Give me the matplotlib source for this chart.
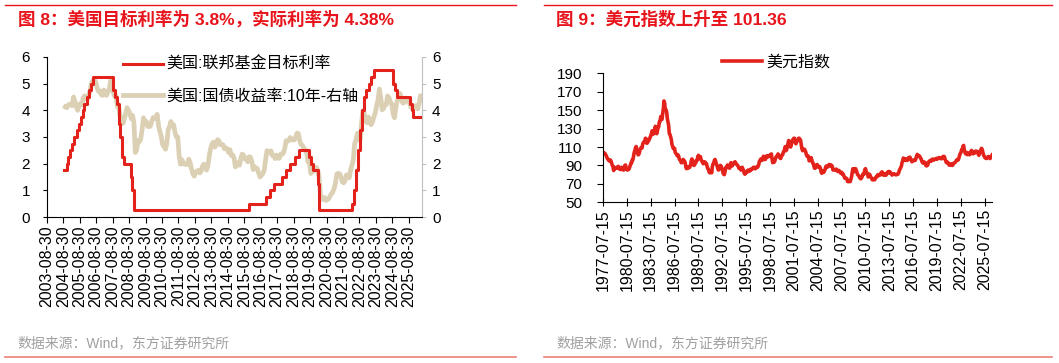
import matplotlib
matplotlib.use('Agg')
import matplotlib.pyplot as plt
import matplotlib.dates as mdates
from matplotlib.lines import Line2D
import numpy as np
import pandas as pd

plt.rcParams['font.family'] = ['Liberation Sans', 'Noto Sans CJK SC', 'DejaVu Sans']
plt.rcParams['axes.unicode_minus'] = False

RED = '#E3231B'
BEIGE = '#DCD0B4'
TITLE_RED = '#E8141B'

# ---- chart 8: fed funds target (upper bound) and 10y treasury ----
fed_dates = ['2004-09-21', '2004-11-10', '2004-12-14', '2005-02-02', '2005-03-22', '2005-05-03',
             '2005-06-30', '2005-08-09', '2005-09-20', '2005-11-01', '2005-12-13', '2006-01-31',
             '2006-03-28', '2006-05-10', '2006-06-29', '2007-09-18', '2007-10-31', '2007-12-11',
             '2008-01-22', '2008-01-30', '2008-03-18', '2008-04-30', '2008-10-08', '2008-10-29',
             '2008-12-16', '2015-12-16', '2016-12-14', '2017-03-15', '2017-06-14', '2017-12-13',
             '2018-03-21', '2018-06-13', '2018-09-26', '2018-12-19', '2019-07-31', '2019-09-18',
             '2019-10-30', '2020-03-03', '2020-03-15', '2022-03-16', '2022-05-04', '2022-06-15',
             '2022-07-27', '2022-09-21', '2022-11-02', '2022-12-14', '2023-02-01', '2023-03-22',
             '2023-05-03', '2023-07-26', '2024-09-18', '2024-11-07', '2024-12-18', '2025-09-17',
             '2025-10-29', '2025-12-10', '2026-05-29']
fed_rate = [1.75, 2.0, 2.25, 2.5, 2.75, 3.0,
            3.25, 3.5, 3.75, 4.0, 4.25, 4.5,
            4.75, 5.0, 5.25, 4.75, 4.5, 4.25,
            3.5, 3.0, 2.25, 2.0, 1.5, 1.0,
            0.25, 0.5, 0.75, 1.0, 1.25, 1.5,
            1.75, 2.0, 2.25, 2.5, 2.25, 2.0,
            1.75, 1.25, 0.25, 0.5, 1.0, 1.75,
            2.5, 3.25, 4.0, 4.5, 4.75, 5.0,
            5.25, 5.5, 5.0, 4.75, 4.5, 4.25,
            4.0, 3.75, 3.75]

ust10y_start = '2004-09-15'
ust10y = [
    4.13, 4.10, 4.19, 4.23,
    4.22, 4.17, 4.50, 4.34, 4.14, 4.00, 4.18, 4.26, 4.20, 4.46, 4.54, 4.47,
    4.42, 4.57, 4.72, 4.99, 5.11, 5.11, 5.09, 4.88, 4.72, 4.73, 4.60, 4.56,
    4.76, 4.72, 4.56, 4.69, 4.75, 5.10, 5.00, 4.67, 4.52, 4.53, 4.15, 4.10,
    3.74, 3.74, 3.51, 3.68, 3.88, 4.10, 4.01, 3.89, 3.69, 3.81, 3.53, 2.42,
    2.52, 2.87, 2.82, 2.93, 3.29, 3.72, 3.56, 3.59, 3.40, 3.39, 3.40, 3.59,
    3.73, 3.69, 3.73, 3.85, 3.42, 3.20, 3.01, 2.70, 2.65, 2.54, 2.76, 3.29,
    3.39, 3.58, 3.41, 3.46, 3.17, 3.00, 3.00, 2.30, 1.98, 2.15, 2.01, 1.98,
    1.97, 1.97, 2.17, 2.05, 1.80, 1.62, 1.53, 1.68, 1.72, 1.75, 1.65, 1.72,
    1.91, 1.98, 1.96, 1.76, 1.93, 2.30, 2.58, 2.74, 2.81, 2.62, 2.72, 2.90,
    2.86, 2.71, 2.72, 2.71, 2.56, 2.60, 2.54, 2.42, 2.53, 2.30, 2.33, 2.21,
    1.88, 1.98, 2.04, 1.94, 2.20, 2.36, 2.32, 2.17, 2.17, 2.07, 2.26, 2.24,
    2.09, 1.78, 1.89, 1.81, 1.81, 1.64, 1.50, 1.56, 1.63, 1.76, 2.14, 2.49,
    2.43, 2.42, 2.48, 2.30, 2.30, 2.19, 2.32, 2.21, 2.20, 2.36, 2.35, 2.40,
    2.58, 2.86, 2.84, 2.87, 2.98, 2.91, 2.89, 2.89, 3.00, 3.15, 3.12, 2.83,
    2.71, 2.68, 2.57, 2.53, 2.40, 2.07, 2.06, 1.63, 1.70, 1.71, 1.81, 1.86,
    1.76, 1.50, 0.87, 0.66, 0.67, 0.73, 0.62, 0.65, 0.68, 0.79, 0.87, 0.93,
    1.08, 1.26, 1.61, 1.64, 1.62, 1.52, 1.32, 1.28, 1.37, 1.58, 1.56, 1.47,
    1.76, 1.93, 2.13, 2.75, 2.90, 3.14, 2.90, 2.90, 3.52, 3.98, 3.89, 3.62,
    3.53, 3.75, 3.66, 3.46, 3.57, 3.75, 3.90, 4.17, 4.38, 4.80, 4.50, 4.02,
    4.06, 4.21, 4.21, 4.54, 4.48, 4.31, 4.25, 3.87, 3.72, 4.10, 4.36, 4.39,
    4.63, 4.45, 4.28, 4.28, 4.42, 4.38, 4.39, 4.26, 4.12, 4.06, 4.09, 4.15,
    4.18, 4.05, 4.25, 4.55, 4.38,
]
left_ticks = ['%d-08-30' % y for y in range(2003, 2026)]

# ---- chart 9: dollar index, monthly ----
dxy_start = '1977-07-15'
dxy = [
    104.0, 103.5, 103.0, 101.5, 100.5, 98.5,
    97.0, 96.5, 95.0, 95.5, 96.0, 95.0, 92.5, 90.0, 89.0, 84.5, 88.0, 86.5,
    87.0, 87.5, 87.0, 88.5, 89.0, 87.5, 86.0, 86.0, 85.5, 88.0, 87.0, 85.5,
    85.0, 85.5, 90.0, 90.5, 87.0, 85.5, 85.0, 86.5, 86.0, 87.5, 90.0, 92.5,
    92.5, 96.0, 96.0, 99.5, 104.0, 106.0, 109.0, 110.5, 106.5, 104.0, 101.5, 102.0,
    104.5, 107.5, 109.0, 109.5, 109.0, 113.5, 115.0, 115.5, 117.0, 119.5, 119.0, 114.0,
    114.5, 116.5, 117.0, 118.5, 120.5, 122.0, 124.5, 127.5, 126.0, 124.0, 127.0, 129.5,
    132.5, 129.0, 124.5, 127.0, 131.5, 132.0, 137.5, 137.5, 143.0, 143.0, 140.0, 146.5,
    151.5, 160.0, 157.5, 150.0, 150.5, 148.0, 141.0, 137.0, 133.5, 124.5, 123.5, 121.0,
    118.0, 113.0, 110.5, 108.5, 108.0, 108.5, 104.0, 103.0, 102.0, 100.5, 101.5, 100.5,
    97.0, 96.0, 95.5, 93.0, 93.0, 94.5, 96.5, 95.5, 94.5, 93.0, 88.0, 86.5,
    87.0, 88.5, 87.5, 87.5, 88.5, 90.5, 94.5, 97.0, 96.0, 93.0, 90.0, 90.5,
    93.0, 93.0, 95.5, 95.5, 99.5, 101.0, 97.5, 99.0, 99.5, 96.0, 95.0, 93.5,
    92.0, 92.0, 94.0, 93.5, 92.0, 92.0, 89.0, 86.5, 86.0, 83.0, 82.0, 83.0,
    83.5, 82.0, 89.0, 91.5, 92.5, 95.5, 96.5, 94.5, 91.5, 90.0, 87.0, 85.0,
    85.5, 88.0, 90.0, 89.5, 87.5, 86.0, 82.0, 80.5, 80.0, 83.0, 87.5, 87.5,
    89.5, 90.5, 90.0, 87.5, 87.0, 89.5, 93.0, 92.0, 89.5, 91.0, 92.5, 93.0,
    94.0, 93.0, 91.5, 91.0, 90.0, 89.0, 87.0, 87.5, 86.5, 85.0, 86.0, 88.0,
    86.0, 85.0, 81.5, 80.5, 82.0, 82.0, 82.5, 84.5, 85.0, 83.5, 84.0, 84.5,
    86.0, 85.5, 86.0, 87.0, 88.0, 88.0, 86.5, 86.5, 87.5, 88.5, 88.0, 89.0,
    91.5, 94.5, 95.0, 97.0, 95.5, 95.5, 97.5, 100.0, 97.5, 96.5, 96.5, 99.0,
    100.5, 99.5, 100.0, 99.5, 100.0, 101.5, 101.5, 102.5, 97.0, 93.0, 94.5, 93.5,
    94.5, 97.0, 99.0, 100.0, 100.5, 102.5, 101.5, 99.5, 98.0, 97.5, 100.0, 101.0,
    101.5, 104.5, 105.5, 107.5, 110.5, 106.0, 107.0, 110.5, 114.0, 117.0, 116.5, 112.0,
    110.0, 112.5, 115.5, 117.5, 118.5, 119.5, 119.5, 115.0, 113.5, 115.5, 116.5, 117.0,
    119.5, 119.5, 118.5, 117.5, 113.0, 108.5, 106.0, 107.5, 107.0, 107.5, 106.0, 104.0,
    101.0, 100.0, 100.5, 99.5, 95.0, 95.5, 97.0, 98.5, 96.0, 93.0, 92.5, 89.5,
    87.0, 87.0, 89.0, 90.5, 91.0, 89.0, 88.0, 89.0, 88.5, 86.5, 83.0, 81.5,
    83.0, 84.0, 82.5, 84.0, 85.5, 88.5, 89.5, 88.0, 88.5, 89.5, 91.0, 90.5,
    89.5, 90.5, 90.0, 88.5, 85.0, 85.5, 85.5, 85.0, 85.5, 86.0, 84.5, 83.5,
    84.5, 84.5, 83.5, 82.0, 82.0, 82.5, 80.5, 81.0, 79.5, 77.5, 76.0, 76.5,
    76.0, 75.5, 72.5, 72.5, 72.5, 73.0, 72.5, 75.5, 78.0, 83.0, 86.5, 83.0,
    83.5, 86.5, 86.5, 85.0, 82.5, 80.0, 79.5, 78.5, 77.0, 76.0, 75.5, 76.5,
    78.0, 80.5, 80.5, 81.0, 85.5, 86.5, 83.5, 82.0, 81.0, 77.5, 78.5, 80.5,
    79.0, 77.5, 76.5, 74.5, 75.0, 74.5, 74.5, 74.5, 76.5, 77.5, 77.5, 79.5,
    80.0, 79.0, 79.5, 79.5, 81.5, 82.5, 83.0, 82.0, 79.5, 79.5, 80.5, 80.0,
    79.5, 80.5, 82.5, 82.5, 83.5, 82.0, 83.0, 81.5, 81.0, 79.5, 80.5, 80.5,
    81.0, 80.5, 80.0, 79.8, 80.0, 80.5, 80.5, 82.0, 84.5, 86.0, 87.5, 89.0,
    93.0, 94.5, 98.0, 97.5, 95.5, 95.5, 97.0, 95.5, 95.5, 96.0, 98.5, 98.5,
    99.0, 97.0, 96.0, 94.0, 94.5, 95.0, 96.0, 95.5, 95.5, 97.5, 100.0, 102.0,
    101.0, 100.5, 100.5, 99.5, 98.0, 97.0, 94.5, 93.0, 92.5, 94.0, 93.5, 93.0,
    90.0, 89.5, 89.9, 90.5, 93.5, 94.5, 94.5, 95.5, 94.5, 96.0, 96.8, 96.8,
    95.8, 96.5, 96.8, 97.3, 97.7, 96.8, 97.3, 98.0, 98.6, 97.8, 97.9, 97.3,
    97.3, 98.8, 99.7, 99.8, 99.5, 96.9, 95.0, 93.0, 93.4, 93.4, 92.2, 90.4,
    90.3, 90.4, 91.8, 91.4, 90.0, 90.8, 92.5, 92.8, 93.2, 93.9, 95.5, 96.3,
    95.8, 96.0, 98.3, 101.1, 103.0, 104.0, 106.9, 107.1, 110.8, 111.7, 107.1, 104.3,
    102.5, 103.4, 104.0, 101.7, 102.7, 103.3, 101.6, 103.3, 105.3, 106.3, 104.4, 102.6,
    103.0, 104.2, 103.6, 105.6, 105.1, 105.2, 104.7, 102.3, 101.0, 103.0, 105.7, 107.2,
    108.6, 107.4, 104.3, 101.5, 100.2, 98.7, 97.9, 98.1, 97.5, 98.7, 99.6, 98.9,
    98.8, 97.5, 99.5, 99.8, 101.36,
]
right_ticks = ['%d-07-15' % y for y in range(1977, 2026, 3)]

# ---------------------------------------------------------------
W, H = 1059, 363
fig = plt.figure(figsize=(W / 100, H / 100), dpi=100)


def box(x0, y0, x1, y1):
    return [x0 / W, 1 - y1 / H, (x1 - x0) / W, (y1 - y0) / H]


def hline(x0, x1, y, color, lw):
    fig.add_artist(Line2D([x0 / W, x1 / W], [1 - y / H, 1 - y / H],
                          color=color, lw=lw, transform=fig.transFigure))


hline(5, 516, 5, TITLE_RED, 1.0)
hline(544, 1052, 5, TITLE_RED, 1.0)
hline(5, 516, 357, '#EE7F7A', 1.2)
hline(544, 1052, 357, '#EE7F7A', 1.2)

fig.text(18 / W, 1 - 19 / H, '图 8：美国目标利率为 3.8%，实际利率为 4.38%',
         color=TITLE_RED, fontsize=12.6, fontweight='bold', va='center')
fig.text(556 / W, 1 - 19 / H, '图 9：美元指数上升至 101.36',
         color=TITLE_RED, fontsize=12.6, fontweight='bold', va='center')
for x in (17, 556):
    fig.text(x / W, 1 - 343 / H, '数据来源：Wind，东方证券研究所',
             color='#A0A0A0', fontsize=10, va='center')

# ---- left chart ----
ax = fig.add_axes(box(46.7, 57, 422.3, 217))
ax2 = ax.twinx()
ax.set_zorder(ax2.get_zorder() + 1)
ax.patch.set_visible(False)

ust_x = pd.date_range(ust10y_start, periods=len(ust10y), freq='MS') + pd.Timedelta(days=14)
l2, = ax2.plot(ust_x, ust10y, color=BEIGE, lw=3.4, solid_joinstyle='round')
l1, = ax.plot(pd.to_datetime(fed_dates), fed_rate, color=RED, lw=2.2, drawstyle='steps-post')

for a in (ax, ax2):
    a.set_ylim(0, 6)
    a.set_yticks(range(0, 7))
    a.set_xlim(pd.Timestamp('2003-08-28'), pd.Timestamp('2026-06-25'))
    a.spines['top'].set_visible(False)
ax.spines['right'].set_visible(False)
ax2.spines['left'].set_visible(False)
ax2.spines['bottom'].set_visible(False)
ax2.spines['right'].set_color('#BFBFBF')
ax.tick_params(axis='y', labelsize=11, length=3, width=0.8, pad=9)
ax2.tick_params(axis='y', labelsize=11, length=3, width=0.8, color='#BFBFBF', pad=4)
ax.set_xticks(pd.to_datetime(left_ticks))
ax.set_xticklabels(left_ticks, rotation=90, fontsize=11.4)
ax.tick_params(axis='x', length=4, width=0.8, pad=2)
ax.legend([l1, l2], ['美国:联邦基金目标利率', '美国:国债收益率:10年-右轴'],
          loc='upper left', bbox_to_anchor=(0.164, 1.09), frameon=False,
          fontsize=11.5, handlelength=2.5, handletextpad=0.25, labelspacing=1.05)

# ---- right chart ----
bx = fig.add_axes(box(603, 73.3, 992, 202.3))
dxy_x = pd.date_range(dxy_start, periods=len(dxy), freq='MS') + pd.Timedelta(days=14)
l3, = bx.plot(dxy_x, dxy, color=RED, lw=2.6, solid_joinstyle='round')
bx.set_ylim(50, 190)
bx.set_yticks(range(50, 191, 20))
bx.set_xlim(pd.Timestamp('1977-07-15'), pd.Timestamp('2026-06-10'))
bx.spines['top'].set_visible(False)
bx.spines['right'].set_visible(False)
bx.set_xticks(pd.to_datetime(right_ticks))
bx.set_xticklabels(right_ticks, rotation=90, fontsize=11.4)
bx.tick_params(axis='x', direction='inout', length=6, width=0.8, pad=2)
bx.tick_params(axis='y', labelsize=11, length=4, width=0.8, pad=11)
bx.legend([l3], ['美元指数'], loc='lower center', bbox_to_anchor=(0.445, 0.92),
          frameon=False, fontsize=11.5, handlelength=2.5, handletextpad=0.25)

fig.savefig('out.png', dpi=100)
